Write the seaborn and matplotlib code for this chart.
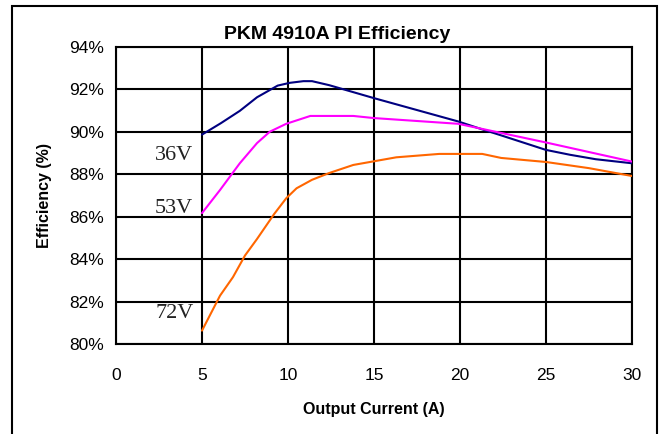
import pandas as pd
import seaborn as sns
import matplotlib.pyplot as plt
from matplotlib.patches import Rectangle
from matplotlib.ticker import FuncFormatter

# data (current A, efficiency %)
x_36v = [5.0, 6.1, 7.2, 8.2, 9.4, 10.1, 10.9, 11.4, 12.4, 15.0, 19.9, 21.4, 22.3, 25.0, 26.4, 27.9, 30.0]
y_36v = [89.87, 90.41, 90.99, 91.63, 92.18, 92.31, 92.39, 92.39, 92.2, 91.59, 90.49, 90.09, 89.86, 89.15, 88.92, 88.71, 88.52]

x_53v = [5.0, 6.05, 7.2, 8.2, 8.95, 9.9, 11.3, 13.8, 15.0, 19.9, 25.0, 30.0]
y_53v = [86.17, 87.26, 88.52, 89.47, 90.01, 90.38, 90.75, 90.75, 90.65, 90.38, 89.5, 88.6]

x_72v = [5.0, 6.05, 6.8, 7.5, 8.2, 9.2, 9.9, 10.5, 11.4, 12.4, 13.8, 16.3, 18.8, 21.3, 22.4, 25.0, 27.5, 30.0]
y_72v = [80.63, 82.28, 83.15, 84.17, 84.95, 86.13, 86.87, 87.34, 87.74, 88.06, 88.44, 88.8, 88.96, 88.96, 88.77, 88.58, 88.29, 87.92]

series = ['36V', '53V', '72V']
colors = {'36V': '#000080', '53V': '#ff00ff', '72V': '#ff6600'}
label_y = {'36V': 88.9, '53V': 86.4, '72V': 81.45}

sns.set_style("white")
plt.rcParams['font.family'] = ['Liberation Sans', 'DejaVu Sans']
plt.rcParams['text.color'] = 'black'
plt.rcParams['axes.labelcolor'] = 'black'
plt.rcParams['xtick.color'] = 'black'
plt.rcParams['ytick.color'] = 'black'

df = pd.concat([
    pd.DataFrame({'current': x_36v, 'eff': y_36v, 'v': '36V'}),
    pd.DataFrame({'current': x_53v, 'eff': y_53v, 'v': '53V'}),
    pd.DataFrame({'current': x_72v, 'eff': y_72v, 'v': '72V'}),
])

fig = plt.figure(figsize=(6.63, 4.34), dpi=100)
ax = fig.add_axes([0.175, 0.2074, 0.778, 0.6843])

sns.lineplot(data=df, x='current', y='eff', hue='v', palette=colors,
             sort=False, estimator=None, linewidth=1.5, legend=False, ax=ax, zorder=3)

ax.set_xlim(0, 30)
ax.set_ylim(80, 94)
ax.set_xticks(range(0, 31, 5))
ax.set_yticks(range(80, 95, 2))
ax.yaxis.set_major_formatter(FuncFormatter(lambda v, p: f'{v:.0f}%'))
ax.grid(True, color='black', linewidth=1.5)
for s in ax.spines.values():
    s.set_color('black')
    s.set_linewidth(1.5)
ax.tick_params(axis='both', direction='out', length=4, width=1.5, color='black', labelsize=12.5)
ax.tick_params(axis='x', pad=13)
ax.tick_params(axis='y', pad=5)

ax.set_xlabel('Output Current (A)', fontsize=11.5, fontweight='bold', labelpad=14)
ax.set_ylabel('Efficiency (%)', fontsize=11.5, fontweight='bold', labelpad=12)
fig.text(0.508, 0.92, 'PKM 4910A PI Efficiency', ha='center', va='center',
         fontsize=14, fontweight='bold')

for s in series:
    ax.text(4.5, label_y[s], s, ha='right', va='center', fontsize=16,
            family='Liberation Serif', color='#222222')

fig.patches.append(Rectangle((0.018, -0.05), 0.973, 1.036, transform=fig.transFigure,
                             fill=False, edgecolor='black', linewidth=1.5))

fig.savefig('out.png', dpi=100)
